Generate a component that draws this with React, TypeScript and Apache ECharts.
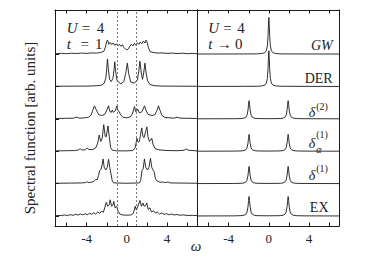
import React, { useEffect, useRef } from "react";
import * as echarts from "echarts";

// ---------- data (omega, spectral weight above each curve's baseline) ----------
const curveNames = ["GW", "DER", "δ(2)", "δα(1)", "δ(1)", "EX"]; // top to bottom
const xTickValues = [-6, -4, -2, 0, 2, 4, 6];
const xLabelValues = [-4, 0, 4];
const baselineTicks = [0, 1, 2, 3, 4, 5];
const dashedOmega = [-0.92, 0.9];

// left panel: U = 4, t = 1
const leftGW = [[-7.15,0.01],[-6.5,0.02],[-6.0,0.01],[-5.5,0.025],[-5.0,0.015],[-4.5,0.03],[-4.0,0.02],[-3.5,0.035],[-3.0,0.03],[-2.6,0.05],[-2.3,0.08],[-2.15,0.2],[-2.0,0.4],[-1.92,0.43],[-1.8,0.3],[-1.65,0.36],[-1.5,0.29],[-1.35,0.34],[-1.2,0.27],[-1.05,0.32],[-0.9,0.25],[-0.75,0.3],[-0.6,0.24],[-0.45,0.29],[-0.3,0.2],[-0.15,0.16],[0,0.13],[0.15,0.16],[0.3,0.24],[0.45,0.3],[0.6,0.25],[0.75,0.33],[0.9,0.27],[1.05,0.35],[1.2,0.3],[1.35,0.37],[1.5,0.32],[1.65,0.4],[1.8,0.34],[1.92,0.43],[2.0,0.38],[2.15,0.2],[2.3,0.08],[2.6,0.05],[3.0,0.03],[3.5,0.035],[4.0,0.02],[4.5,0.03],[5.0,0.015],[5.5,0.025],[6.0,0.01],[6.5,0.02],[6.98,0.01]];
const leftDER = [[-7.15,0.005],[-4,0.01],[-3,0.02],[-2.5,0.04],[-2.25,0.1],[-2.1,0.25],[-2.0,0.55],[-1.93,0.85],[-1.85,0.55],[-1.72,0.22],[-1.55,0.15],[-1.38,0.25],[-1.28,0.5],[-1.2,0.76],[-1.12,0.48],[-0.98,0.18],[-0.6,0.08],[-0.3,0.15],[-0.12,0.4],[0.05,0.72],[0.18,0.4],[0.38,0.14],[0.75,0.1],[1.05,0.2],[1.18,0.45],[1.3,0.78],[1.42,0.45],[1.55,0.22],[1.65,0.35],[1.8,0.72],[1.9,0.45],[2.05,0.18],[2.3,0.06],[2.7,0.025],[3.5,0.01],[6.98,0.005]];
const leftD2 = [[-7.15,0.01],[-6,0.015],[-5.3,0.02],[-5.0,0.05],[-4.7,0.02],[-4.2,0.03],[-3.8,0.05],[-3.55,0.12],[-3.35,0.3],[-3.22,0.4],[-3.05,0.28],[-2.8,0.13],[-2.5,0.1],[-2.2,0.14],[-1.98,0.28],[-1.83,0.4],[-1.68,0.22],[-1.55,0.2],[-1.45,0.27],[-1.35,0.2],[-1.15,0.25],[-1.0,0.4],[-0.88,0.25],[-0.75,0.22],[-0.62,0.12],[-0.4,0.05],[0,0.03],[0.35,0.06],[0.55,0.15],[0.76,0.38],[0.88,0.22],[1.0,0.25],[1.08,0.3],[1.25,0.18],[1.5,0.22],[1.76,0.4],[1.92,0.25],[2.1,0.14],[2.5,0.1],[2.8,0.13],[3.0,0.26],[3.15,0.4],[3.3,0.26],[3.5,0.1],[3.8,0.04],[4.3,0.03],[4.7,0.02],[5.0,0.05],[5.3,0.02],[6,0.015],[6.98,0.01]];
const leftDA1 = [[-7.15,0.01],[-6,0.015],[-5.2,0.02],[-4.8,0.04],[-4.65,0.08],[-4.5,0.04],[-4.15,0.04],[-3.95,0.1],[-3.8,0.05],[-3.4,0.05],[-3.1,0.1],[-2.9,0.25],[-2.75,0.5],[-2.6,0.3],[-2.45,0.4],[-2.3,0.82],[-2.15,0.45],[-2.05,0.45],[-1.88,0.78],[-1.75,0.45],[-1.62,0.12],[-1.45,0.03],[-1.0,0.01],[0,0.01],[0.6,0.02],[0.82,0.1],[0.92,0.25],[1.0,0.4],[1.12,0.28],[1.25,0.3],[1.38,0.55],[1.48,0.72],[1.6,0.45],[1.72,0.42],[1.86,0.6],[1.99,0.75],[2.1,0.45],[2.25,0.3],[2.38,0.35],[2.48,0.4],[2.6,0.22],[2.8,0.08],[3.2,0.04],[4,0.02],[5,0.015],[5.7,0.03],[5.9,0.07],[6.1,0.03],[6.98,0.01]];
const leftD1 = [[-7.15,0.01],[-5.5,0.015],[-4.5,0.02],[-4.1,0.03],[-3.98,0.06],[-3.85,0.03],[-3.4,0.05],[-3.2,0.09],[-3.08,0.13],[-2.95,0.12],[-2.82,0.25],[-2.7,0.4],[-2.55,0.45],[-2.45,0.6],[-2.37,0.76],[-2.25,0.5],[-2.1,0.42],[-1.95,0.5],[-1.82,0.75],[-1.7,0.5],[-1.58,0.3],[-1.45,0.08],[-1.3,0.02],[0,0.01],[1.25,0.02],[1.38,0.1],[1.5,0.4],[1.62,0.45],[1.75,0.76],[1.88,0.5],[2.05,0.42],[2.2,0.5],[2.35,0.78],[2.48,0.5],[2.6,0.42],[2.7,0.38],[2.85,0.15],[3.0,0.08],[3.3,0.04],[3.6,0.05],[3.75,0.03],[4.0,0.04],[4.1,0.05],[4.3,0.02],[5.5,0.015],[6.98,0.01]];
const leftEX = [[-7.15,0.01],[-6.5,0.015],[-6.2,0.03],[-5.9,0.015],[-5.6,0.04],[-5.35,0.02],[-5.1,0.05],[-4.85,0.03],[-4.6,0.06],[-4.4,0.035],[-4.15,0.07],[-3.95,0.04],[-3.7,0.08],[-3.5,0.05],[-3.3,0.1],[-3.1,0.06],[-2.9,0.12],[-2.7,0.08],[-2.5,0.15],[-2.35,0.11],[-2.2,0.25],[-2.05,0.42],[-1.9,0.3],[-1.75,0.35],[-1.66,0.5],[-1.52,0.3],[-1.4,0.33],[-1.3,0.45],[-1.17,0.25],[-1.0,0.3],[-0.88,0.15],[-0.7,0.06],[-0.4,0.03],[0,0.025],[0.4,0.03],[0.65,0.08],[0.83,0.3],[0.95,0.18],[1.1,0.3],[1.3,0.48],[1.45,0.3],[1.6,0.4],[1.72,0.3],[1.85,0.32],[1.99,0.4],[2.12,0.2],[2.3,0.25],[2.45,0.12],[2.65,0.16],[2.85,0.09],[3.05,0.12],[3.25,0.06],[3.45,0.09],[3.7,0.05],[3.95,0.07],[4.2,0.035],[4.45,0.06],[4.7,0.03],[5.0,0.045],[5.3,0.02],[5.6,0.035],[6.0,0.015],[6.5,0.02],[6.98,0.01]];

// right panel: U = 4, t -> 0
const rightGW = [[-7.15,0],[-2.5,0.003],[-1.2,0.005],[-0.7,0.015],[-0.4,0.043],[-0.25,0.105],[-0.15,0.25],[-0.08,0.565],[-0.04,0.9],[0,1.13],[0.04,0.9],[0.08,0.565],[0.15,0.25],[0.25,0.105],[0.4,0.043],[0.7,0.015],[1.2,0.005],[2.5,0.003],[6.98,0]];
const rightDER = [[-7.15,0],[-2.5,0.003],[-1.2,0.005],[-0.7,0.015],[-0.4,0.042],[-0.25,0.102],[-0.15,0.243],[-0.08,0.55],[-0.04,0.88],[0,1.1],[0.04,0.88],[0.08,0.55],[0.15,0.243],[0.25,0.102],[0.4,0.042],[0.7,0.015],[1.2,0.005],[2.5,0.003],[6.98,0]];
const rightD2 = [[-7.15,0],[-3.5,0.003],[-2.77,0.008],[-2.47,0.021],[-2.27,0.056],[-2.17,0.112],[-2.07,0.28],[-2.02,0.45],[-1.97,0.56],[-1.92,0.45],[-1.87,0.28],[-1.77,0.112],[-1.67,0.056],[-1.47,0.021],[-1.17,0.008],[0,0.004],[1.12,0.008],[1.42,0.021],[1.62,0.056],[1.72,0.112],[1.82,0.28],[1.87,0.45],[1.92,0.56],[1.97,0.45],[2.02,0.28],[2.12,0.112],[2.22,0.056],[2.42,0.021],[2.72,0.008],[3.5,0.003],[6.98,0]];
const rightDA1 = [[-7.15,0],[-3.5,0.003],[-2.77,0.008],[-2.47,0.02],[-2.27,0.052],[-2.17,0.104],[-2.07,0.26],[-2.02,0.42],[-1.97,0.52],[-1.92,0.42],[-1.87,0.26],[-1.77,0.104],[-1.67,0.052],[-1.47,0.02],[-1.17,0.008],[0,0.004],[1.12,0.008],[1.42,0.02],[1.62,0.052],[1.72,0.104],[1.82,0.26],[1.87,0.42],[1.92,0.52],[1.97,0.42],[2.02,0.26],[2.12,0.104],[2.22,0.052],[2.42,0.02],[2.72,0.008],[3.5,0.003],[6.98,0]];
const rightD1 = [[-7.15,0],[-3.5,0.003],[-2.77,0.008],[-2.47,0.02],[-2.27,0.053],[-2.17,0.106],[-2.07,0.265],[-2.02,0.42],[-1.97,0.53],[-1.92,0.42],[-1.87,0.265],[-1.77,0.106],[-1.67,0.053],[-1.47,0.02],[-1.17,0.008],[0,0.004],[1.12,0.008],[1.42,0.02],[1.62,0.053],[1.72,0.106],[1.82,0.265],[1.87,0.42],[1.92,0.53],[1.97,0.42],[2.02,0.265],[2.12,0.106],[2.22,0.053],[2.42,0.02],[2.72,0.008],[3.5,0.003],[6.98,0]];
const rightEX = [[-7.15,0],[-3.5,0.003],[-2.77,0.009],[-2.47,0.023],[-2.27,0.06],[-2.17,0.12],[-2.07,0.3],[-2.02,0.48],[-1.97,0.6],[-1.92,0.48],[-1.87,0.3],[-1.77,0.12],[-1.67,0.06],[-1.47,0.023],[-1.17,0.009],[0,0.005],[1.12,0.009],[1.42,0.023],[1.62,0.06],[1.72,0.12],[1.82,0.3],[1.87,0.48],[1.92,0.6],[1.97,0.48],[2.02,0.3],[2.12,0.12],[2.22,0.06],[2.42,0.023],[2.72,0.009],[3.5,0.003],[6.98,0]];

const leftCurves = [leftGW, leftDER, leftD2, leftDA1, leftD1, leftEX];
const rightCurves = [rightGW, rightDER, rightD2, rightDA1, rightD1, rightEX];

// ---------- layout ----------
const XMIN = -7.15;
const XMAX = 6.98;
const YMIN = -0.31;
const YMAX = 6.36;
const SERIF = "Liberation Serif";
const INK = "#1a1a1a";

function makeXAxes(grid: number) {
  const common = {
    type: "value" as const,
    gridIndex: grid,
    min: XMIN,
    max: XMAX,
    splitLine: { show: false },
    axisLine: { show: true, onZero: false, lineStyle: { color: INK, width: 1 } },
    axisTick: { show: true, inside: true, length: 3.5, customValues: xTickValues, lineStyle: { color: INK, width: 1 } },
  };
  return [
    {
      ...common,
      position: "bottom",
      axisLabel: {
        show: true,
        customValues: xLabelValues,
        fontFamily: SERIF,
        fontSize: 13,
        color: "#222",
        margin: 5.5,
        formatter: (v: number) => (v < 0 ? "-" + Math.abs(v) : String(v)),
      },
    },
    { ...common, position: "top", axisLabel: { show: false } },
  ];
}

function makeYAxes(grid: number, leftTicks: boolean) {
  const common = {
    type: "value" as const,
    gridIndex: grid,
    min: YMIN,
    max: YMAX,
    splitLine: { show: false },
    axisLabel: { show: false },
    axisLine: { show: true, onZero: false, lineStyle: { color: INK, width: 1 } },
  };
  return [
    {
      ...common,
      position: "left",
      axisTick: leftTicks
        ? { show: true, inside: true, length: 4, customValues: baselineTicks, lineStyle: { color: INK } }
        : { show: false },
    },
    { ...common, position: "right", axisTick: { show: false } },
  ];
}

function t(x: number, y: number, text: string, size: number, opts: any = {}) {
  return {
    type: "text",
    x,
    y,
    rotation: opts.rotation || 0,
    silent: true,
    style: {
      text,
      fill: "#222",
      fontFamily: SERIF,
      fontSize: size,
      fontStyle: opts.italic ? "italic" : "normal",
      align: opts.align || "left",
      textAlign: opts.align || "left",
      verticalAlign: "middle",
      textVerticalAlign: "middle",
    },
  };
}

export default function App() {
  const ref = useRef<HTMLDivElement>(null);
  useEffect(() => {
    if (!ref.current) return;
    const chart = echarts.init(ref.current, undefined, { renderer: "svg" });
    const series: any[] = [];
    leftCurves.forEach((c, i) => {
      const off = 5 - i;
      const s: any = {
        type: "line",
        name: "L " + curveNames[i],
        xAxisIndex: 0,
        yAxisIndex: 0,
        data: c.map((p) => [p[0], p[1] + off]),
        showSymbol: false,
        symbol: "none",
        lineStyle: { color: INK, width: 0.9 },
        silent: true,
      };
      if (i === 0) {
        s.markLine = {
          silent: true,
          symbol: ["none", "none"],
          label: { show: false },
          lineStyle: { type: [2, 2], color: "#555", width: 0.8 },
          data: dashedOmega.map((v) => ({ xAxis: v })),
        };
      }
      series.push(s);
    });
    rightCurves.forEach((c, i) => {
      const off = 5 - i;
      series.push({
        type: "line",
        name: "R " + curveNames[i],
        xAxisIndex: 2,
        yAxisIndex: 2,
        data: c.map((p) => [p[0], p[1] + off]),
        showSymbol: false,
        symbol: "none",
        lineStyle: { color: INK, width: 0.9 },
        silent: true,
      });
    });

    chart.setOption({
      animation: false,
      backgroundColor: "#ffffff",
      textStyle: { fontFamily: SERIF },
      grid: [
        { left: 55, top: 10, width: 142, height: 216 },
        { left: 197, top: 10, width: 142, height: 216 },
      ],
      xAxis: [...makeXAxes(0), ...makeXAxes(1)],
      yAxis: [...makeYAxes(0, true), ...makeYAxes(1, false)],
      series,
      graphic: [
        // panel annotations
        t(66.7, 28, "U", 15, { italic: true }),
        t(81.7, 28, "=", 15),
        t(96.7, 28, "4", 15),
        t(66.7, 43.5, "t", 15, { italic: true }),
        t(80.5, 43.5, "=", 15),
        t(95, 43.5, "1", 15),
        t(208.3, 28, "U", 15, { italic: true }),
        t(223.3, 28, "=", 15),
        t(237.3, 28, "4", 15),
        t(208.3, 43.5, "t", 15, { italic: true }),
        t(216.7, 43.5, "→", 15),
        t(235, 43.5, "0", 15),
        // curve labels
        t(332.7, 45.3, "GW", 14, { italic: true, align: "right" }),
        t(332.7, 78, "DER", 14, { align: "right" }),
        t(308.7, 112.5, "δ", 14, { italic: true }),
        t(316.2, 106.5, "(2)", 10),
        t(308.7, 143.8, "δ", 14, { italic: true }),
        t(316.2, 134.5, "(1)", 10),
        t(316.2, 149.5, "α", 10, { italic: true }),
        t(308.7, 175.5, "δ", 14, { italic: true }),
        t(316.2, 168.5, "(1)", 10),
        t(328.5, 207.5, "EX", 14, { align: "right" }),
        // axis titles
        t(30, 128, "Spectral function [arb. units]", 15, { align: "center", rotation: Math.PI / 2 }),
        t(196, 245.5, "ω", 15, { italic: true, align: "center" }),
      ],
    });
    return () => chart.dispose();
  }, []);
  return (
    <div
      ref={ref}
      style={{ position: "absolute", left: 0, top: 0, width: 373, height: 269 }}
    />
  );
}
